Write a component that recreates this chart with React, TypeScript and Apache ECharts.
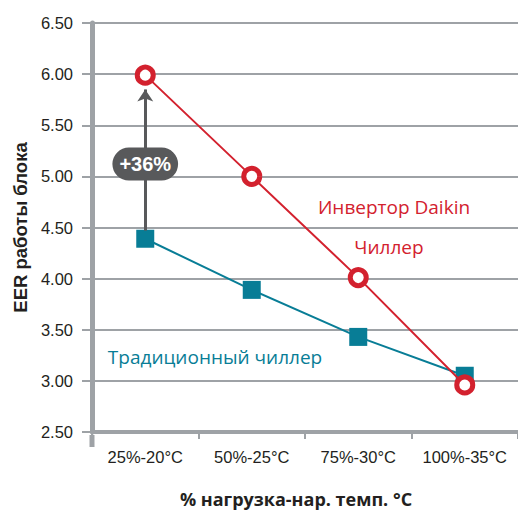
import React, { useEffect, useRef } from "react";
import * as echarts from "echarts";

const categories = ["25%-20°C", "50%-25°C", "75%-30°C", "100%-35°C"];
const inverterValues = [5.99, 5.0, 4.01, 2.96];
const traditionalValues = [4.39, 3.89, 3.43, 3.05];
const arrowFrom = 4.47;
const arrowTo = 5.85;
const badgeValue = 5.12;
const badgeText = "+36%";
const yAxisName = "EER работы блока";
const xAxisName = "% нагрузка-нар. темп. °C";
const redLabel1 = "Инвертор Daikin";
const redLabel2 = "Чиллер";
const tealLabel = "Традиционный чиллер";

const RED = "#d3212e";
const TEAL = "#087d96";
const GRID = "#9ea2a6";
const DARK = "#58595b";

export default function App() {
  const ref = useRef<HTMLDivElement>(null);
  useEffect(() => {
    document.body.style.margin = "0";
    const chart = echarts.init(ref.current!, null, { renderer: "svg" });
    chart.setOption({
      animation: false,
      backgroundColor: "#ffffff",
      grid: { left: 92, right: -4, top: 23, bottom: 78 },
      xAxis: {
        type: "category",
        data: categories,
        boundaryGap: true,
        axisLine: { show: true, lineStyle: { color: GRID, width: 4 } },
        axisTick: { show: true, length: 7, lineStyle: { color: GRID, width: 2 } },
        axisLabel: {
          interval: 0,
          hideOverlap: false,
          color: "#231f20",
          fontSize: 16.5,
          fontFamily: "Liberation Sans, Arial, sans-serif",
          margin: 16,
        },
        name: xAxisName,
        nameLocation: "middle",
        nameGap: 58,
        nameTextStyle: {
          color: "#231f20",
          fontSize: 18,
          fontWeight: "bold",
          fontFamily: "Open Sans, sans-serif",
          padding: [0, 18, 0, 0],
        },
        splitLine: { show: false },
      },
      yAxis: {
        type: "value",
        min: 2.5,
        max: 6.5,
        interval: 0.5,
        axisLine: { show: true, lineStyle: { color: GRID, width: 5 } },
        axisTick: { show: true, length: 10, lineStyle: { color: GRID, width: 2 } },
        axisLabel: {
          color: "#231f20",
          fontSize: 16.5,
          fontFamily: "Liberation Sans, Arial, sans-serif",
          margin: 19,
          formatter: (v: number) => v.toFixed(2),
        },
        splitLine: { show: true, lineStyle: { color: GRID, width: 2 } },
        name: yAxisName,
        nameLocation: "middle",
        nameGap: 56,
        nameTextStyle: {
          color: "#231f20",
          fontSize: 18.5,
          fontWeight: "bold",
          fontFamily: "Liberation Sans, Arial, sans-serif",
        },
      },
      series: [
        {
          type: "line",
          name: "traditional",
          data: traditionalValues,
          z: 3,
          symbol: "rect",
          symbolSize: 18,
          itemStyle: { color: TEAL },
          lineStyle: { color: TEAL, width: 2 },
          markLine: {
            silent: true,
            symbol: ["none", "arrow"],
            symbolSize: [12, 12],
            lineStyle: { color: DARK, width: 3, type: "solid" },
            label: { show: false },
            data: [
              [
                { coord: [0, arrowFrom] },
                { coord: [0, arrowTo] },
              ],
            ],
          },
          markPoint: {
            silent: true,
            symbol: "circle",
            symbolSize: 2,
            itemStyle: { color: "transparent" },
            label: {
              show: true,
              position: "inside",
              formatter: badgeText,
              color: "#ffffff",
              fontSize: 20,
              fontWeight: "bold",
              fontFamily: "Liberation Sans, Arial, sans-serif",
              backgroundColor: DARK,
              borderRadius: 17,
              padding: [7, 7, 6, 7],
            },
            data: [{ coord: [0, badgeValue] }],
          },
        },
        {
          type: "line",
          name: "inverter",
          data: inverterValues,
          z: 4,
          symbol: "circle",
          symbolSize: 16,
          itemStyle: { color: "#ffffff", borderColor: RED, borderWidth: 5 },
          lineStyle: { color: RED, width: 2 },
        },
      ],
      graphic: [
        {
          type: "rect",
          shape: { x: 89.5, y: 435, width: 5, height: 12 },
          style: { fill: GRID },
        },
        {
          type: "text",
          x: 394,
          y: 207,
          style: {
            text: redLabel1,
            fill: RED,
            font: "19px 'Open Sans', sans-serif",
            textAlign: "center",
            textVerticalAlign: "middle",
          },
        },
        {
          type: "text",
          x: 389,
          y: 247,
          style: {
            text: redLabel2,
            fill: RED,
            font: "19px 'Open Sans', sans-serif",
            textAlign: "center",
            textVerticalAlign: "middle",
          },
        },
        {
          type: "text",
          x: 215,
          y: 357,
          style: {
            text: tealLabel,
            fill: TEAL,
            font: "19px 'Open Sans', sans-serif",
            textAlign: "center",
            textVerticalAlign: "middle",
          },
        },
      ],
    });
    return () => chart.dispose();
  }, []);
  return <div ref={ref} style={{ width: 518, height: 513 }} />;
}
